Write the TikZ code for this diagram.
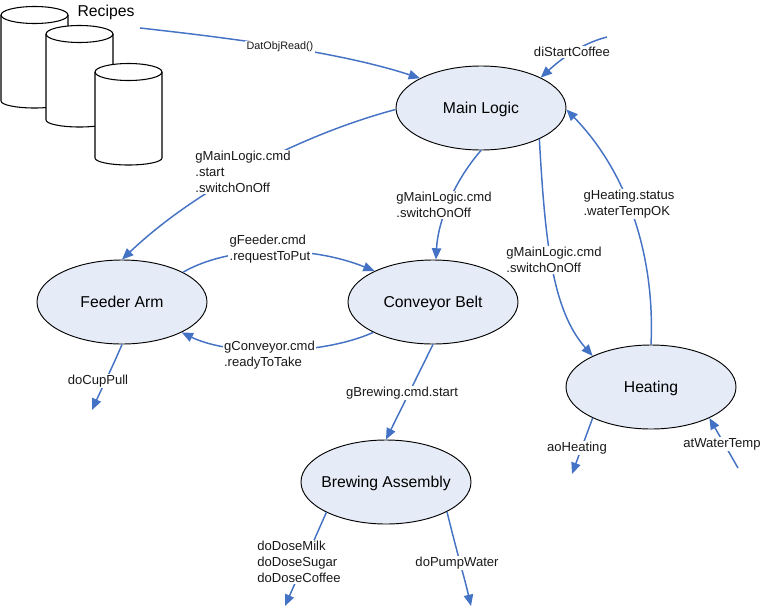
\documentclass[tikz,border=0pt]{standalone}
\usepackage{fontspec}
\setmainfont{Liberation Sans}
\usetikzlibrary{arrows.meta,shapes.geometric}
\definecolor{linkblue}{HTML}{4472C4}
\definecolor{statefill}{HTML}{E6ECF7}
\newcommand{\drum}[3]{%
  \draw[fill=white,line width=0.8pt] (#1,#2) -- (#1,#3) arc[start angle=180,end angle=0,x radius=33.5,y radius=7] -- (#1+67,#2) arc[start angle=0,end angle=-180,x radius=33.5,y radius=8.5] -- cycle;
  \draw[line width=0.8pt] (#1,#2) arc[start angle=180,end angle=0,x radius=33.5,y radius=8.5];
}
\tikzset{
  x=0.75pt,y=-0.75pt,
  state/.style={draw=black,fill=statefill,ellipse,line width=0.7pt,minimum width=127.5pt,minimum height=63pt,inner ysep=0pt,inner xsep=-5pt,text height=10pt,text depth=2.5pt,font=\fontsize{11.8pt}{13pt}\selectfont},
  link/.style={draw=linkblue,line width=1.1pt,-{Triangle[length=8.5pt,width=7pt]}},
  lab/.style={fill=white,inner sep=1pt,align=left,yshift=-0.75pt,font=\fontsize{9.8pt}{12pt}\selectfont,text=black!90},
}
\begin{document}
\begin{tikzpicture}
\useasboundingbox (0,0) rectangle (764,607);
\drum{1}{15}{101}
\drum{46}{34}{120}
\drum{95}{72}{158}
\node[font=\fontsize{11.8pt}{13pt}\selectfont] (recipes) at (106,12) {Recipes};
\node[state] (main) at (481,108) {Main Logic};
\node[state] (feeder) at (122,302) {Feeder Arm};
\node[state] (conveyor) at (433,302) {Conveyor Belt};
\node[state] (heating) at (651,387) {Heating};
\node[state] (brewing) at (386,482) {Brewing Assembly};
\coordinate (recipesOut) at (140,28);
\coordinate (startIn) at (607,37);
\coordinate (cupOut) at (92,410);
\coordinate (aoOut) at (572,474);
\coordinate (tempIn) at (738,468);
\coordinate (doseOut) at (285,606);
\coordinate (pumpOut) at (471,606);
% connectors
\draw[link] (recipesOut) .. controls (230,38) and (340,52) .. (main.154);
\draw[link] (startIn) .. controls (580,44) and (560,60) .. (main.27);
\draw[link] (main.181) .. controls (300,135) and (195,190) .. (feeder.north);
\draw[link] (main.270) .. controls (455,180) and (438,220) .. (conveyor.86);
\draw[link] (main.332) .. controls (545,240) and (552,310) .. (heating.152);
\draw[link] (heating.90) .. controls (655,260) and (630,175) .. (main.359);
\draw[link] (feeder.26) .. controls (230,245) and (310,245) .. (conveyor.152);
\draw[link] (conveyor.207) .. controls (320,356) and (230,356) .. (feeder.333);
\draw[link] (feeder.270) .. controls (112,368) and (102,388) .. (cupOut);
\draw[link] (conveyor.270) -- (brewing.north);
\draw[link] (heating.208) -- (aoOut);
\draw[link] (tempIn) -- (heating.332);
\draw[link] (brewing.207) -- (doseOut);
\draw[link] (brewing.334) .. controls (455,545) and (465,580) .. (pumpOut);
% labels
\node[lab,font=\fontsize{8.1pt}{9pt}\selectfont] (lblRead) at (280,46) {DatObjRead()};
\node[lab] (lblStart) at (572,51) {diStartCoffee};
\node[lab] (lblFeeder) at (243,171) {gMainLogic.cmd\\.start\\.switchOnOff};
\node[lab] (lblBelt) at (444,204) {gMainLogic.cmd\\.switchOnOff};
\node[lab] (lblHeat) at (554,259) {gMainLogic.cmd\\.switchOnOff};
\node[lab] (lblStatus) at (629,203) {gHeating.status\\.waterTempOK};
\node[lab] (lblPut) at (270,248) {gFeeder.cmd\\.requestToPut};
\node[lab] (lblTake) at (269.5,354) {gConveyor.cmd\\.readyToTake};
\node[lab] (lblCup) at (98,380) {doCupPull};
\node[lab] (lblBrew) at (402,392) {gBrewing.cmd.start};
\node[lab] (lblAo) at (577,447) {aoHeating};
\node[lab] (lblTemp) at (722,443) {atWaterTemp};
\node[lab] (lblDose) at (299,561) {doDoseMilk\\doDoseSugar\\doDoseCoffee};
\node[lab] (lblPump) at (457,562) {doPumpWater};
\end{tikzpicture}
\end{document}
